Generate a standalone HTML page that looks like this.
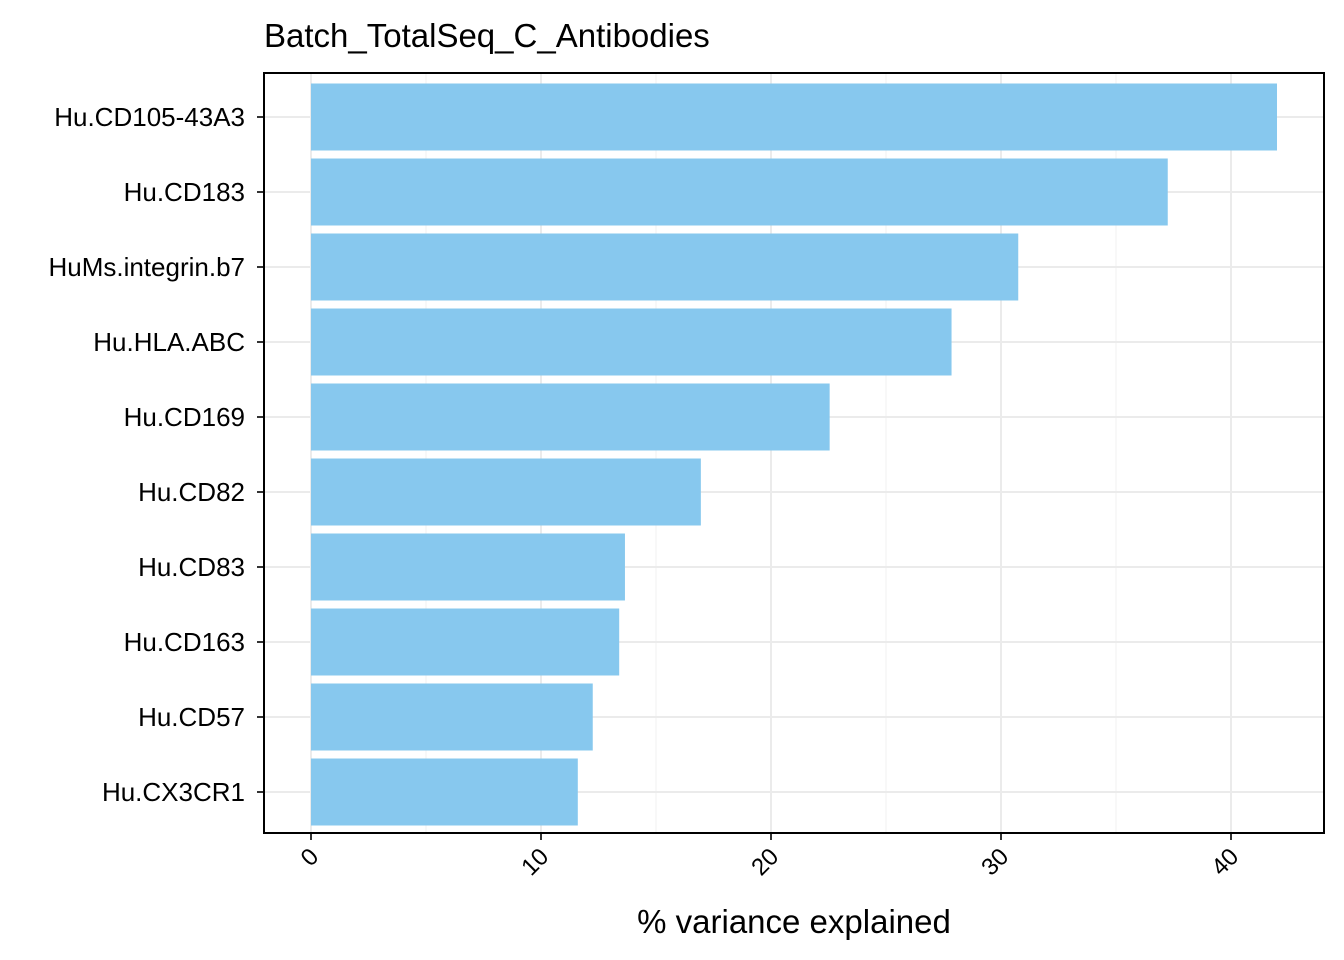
<!DOCTYPE html>
<html><head><meta charset="utf-8"><style>body{margin:0;background:#fff}svg{display:block;font-family:"Liberation Sans",Arial,sans-serif}</style></head>
<body>
<svg id="chart" width="1344" height="960">
<text x="264" y="47" font-size="33" fill="#000">Batch_TotalSeq_C_Antibodies</text>
<g id="grid"></g><g id="bars"></g><g id="yaxis"></g><g id="xaxis"></g>
<rect x="264" y="73" width="1060" height="760" fill="none" stroke="#000" stroke-width="2"/>
<text x="794" y="933" font-size="33" text-anchor="middle" fill="#000">% variance explained</text>
</svg>
<script>
const categories=["Hu.CD105-43A3","Hu.CD183","HuMs.integrin.b7","Hu.HLA.ABC","Hu.CD169","Hu.CD82","Hu.CD83","Hu.CD163","Hu.CD57","Hu.CX3CR1"];
const values=[42.0,37.25,30.75,27.85,22.55,16.95,13.65,13.4,12.25,11.6];
const xTicks=[0,10,20,30,40];
const xMinor=[5,15,25,35];
const NS="http://www.w3.org/2000/svg";
const x=v=>311+v*23;
const y=i=>117+i*75;
function mk(tag,attrs,parent){const e=document.createElementNS(NS,tag);for(const k in attrs)e.setAttribute(k,attrs[k]);document.getElementById(parent).appendChild(e);return e;}
xMinor.forEach(v=>{const l=mk('line',{x1:x(v),x2:x(v),y1:73,y2:833,stroke:'#f2f2f2','stroke-width':1},'grid');

});
xTicks.forEach(v=>{const l=mk('line',{x1:x(v),x2:x(v),y1:73,y2:833,stroke:'#ebebeb','stroke-width':2},'grid');


const t=mk('line',{x1:x(v),x2:x(v),y1:833,y2:840,stroke:'#333','stroke-width':2},'xaxis');


const tx=mk('text',{x:0,y:0,'font-size':24,'text-anchor':'end',fill:'#000',transform:`translate(${x(v)+9},${858}) rotate(-45)`},'xaxis');
tx.textContent=v;

});
categories.forEach((c,i)=>{const g=mk('line',{x1:264,x2:1324,y1:y(i),y2:y(i),stroke:'#ebebeb','stroke-width':2},'grid');


const b=mk('rect',{x:x(0),y:y(i)-33.5,width:x(values[i])-x(0),height:67,fill:'#87c8ee'},'bars');


const t=mk('line',{x1:257,x2:264,y1:y(i),y2:y(i),stroke:'#333','stroke-width':2},'yaxis');


const tx=mk('text',{x:245,y:y(i)+9,'font-size':26,'text-anchor':'end',fill:'#000'},'yaxis');
tx.textContent=c;

});
</script>
</body></html>
